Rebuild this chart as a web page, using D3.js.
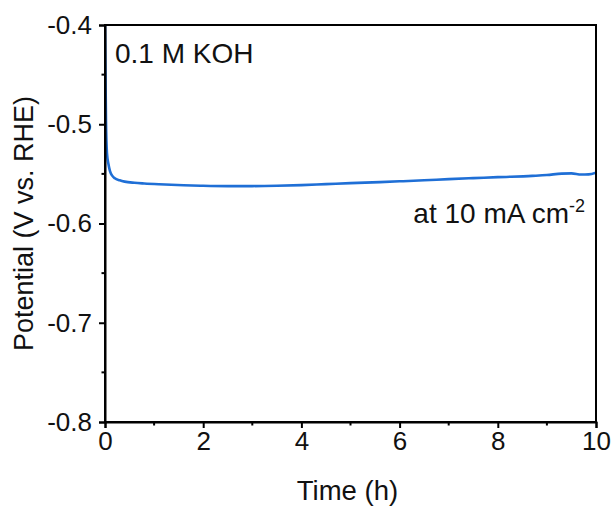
<!DOCTYPE html>
<html lang="en">
<head>
<meta charset="utf-8">
<title>Chronopotentiometry in 0.1 M KOH</title>
<script src="https://cdn.jsdelivr.net/npm/d3@7"></script>
<style>
  body { margin: 0; background: #fff; }
  svg text { font-family: Arial, "Liberation Sans", sans-serif; fill: #111; }
</style>
</head>
<body>
<script>
// time (h) and potential (V vs. RHE)
var times = [0, 0.01, 0.02, 0.04, 0.07, 0.1, 0.15, 0.2, 0.3, 0.4, 0.6, 0.8, 1.1, 1.6, 2.0, 2.5, 3.0, 3.5, 4.0, 4.5, 5.0, 5.6, 6.0, 6.5, 7.0, 7.5, 8.0, 8.7, 9.0, 9.3, 9.5, 9.7, 9.85, 10];
var potentials = [-0.4, -0.45, -0.496, -0.529, -0.540, -0.547, -0.552, -0.5545, -0.5565, -0.5578, -0.559, -0.5597, -0.5605, -0.5615, -0.562, -0.5623, -0.5623, -0.562, -0.5613, -0.5603, -0.5593, -0.5583, -0.5575, -0.5565, -0.5553, -0.5543, -0.5533, -0.552, -0.5512, -0.5497, -0.5495, -0.5507, -0.5505, -0.5488];

var xTicks = [0, 2, 4, 6, 8, 10];
var yTicks = [-0.4, -0.5, -0.6, -0.7, -0.8];
var xMinor = [1, 3, 5, 7, 9];
var yMinor = [-0.45, -0.55, -0.65, -0.75];

var w = 615, h = 509;
var margin = {top: 25, right: 19, bottom: 87, left: 105};

var svg = d3.select("body").append("svg")
  .attr("width", w)
  .attr("height", h);

var x = d3.scaleLinear().domain([0, 10]).range([margin.left, w - margin.right]);
var y = d3.scaleLinear().domain([-0.8, -0.4]).range([h - margin.bottom, margin.top]);

var data = times.map(function(t, i) { return {t: t, v: potentials[i]}; });

// clip so the curve stays inside the frame
svg.append("clipPath").attr("id", "clip")
  .append("rect")
  .attr("x", x(0)).attr("y", y(-0.4))
  .attr("width", x(10) - x(0)).attr("height", y(-0.8) - y(-0.4));

var line = d3.line()
  .x(function(d) { return x(d.t); })
  .y(function(d) { return y(d.v); })
  .curve(d3.curveMonotoneX);

svg.append("path")
  .datum(data)
  .attr("clip-path", "url(#clip)")
  .attr("d", line)
  .attr("fill", "none")
  .attr("stroke", "#1f6fd6")
  .attr("stroke-width", 2.6);

// frame (top and right, no ticks)
svg.append("rect")
  .attr("x", x(0)).attr("y", y(-0.4))
  .attr("width", x(10) - x(0)).attr("height", y(-0.8) - y(-0.4))
  .attr("fill", "none")
  .attr("stroke", "#000")
  .attr("stroke-width", 2);

// axes
var xAxis = svg.append("g")
  .attr("transform", "translate(0," + y(-0.8) + ")")
  .call(d3.axisBottom(x).tickValues(xTicks).tickSize(6).tickPadding(4).tickFormat(d3.format("d")));

var yAxis = svg.append("g")
  .attr("transform", "translate(" + x(0) + ",0)")
  .call(d3.axisLeft(y).tickValues(yTicks).tickSize(6).tickPadding(7).tickFormat(d3.format(".1f")));

[xAxis, yAxis].forEach(function(g) {
  g.select(".domain").attr("stroke-width", 2);
  g.selectAll(".tick line").attr("stroke-width", 2);
  g.selectAll(".tick text").attr("font-size", 26).attr("font-family", "Arial, 'Liberation Sans', sans-serif").attr("fill", "#111");
});
yAxis.selectAll(".tick text").text(function(d) { return d3.format(".1f")(d).replace("−", "-"); });

// minor ticks
svg.append("g").selectAll("line").data(xMinor).enter().append("line")
  .attr("x1", function(d) { return x(d); }).attr("x2", function(d) { return x(d); })
  .attr("y1", y(-0.8)).attr("y2", y(-0.8) + 3.5)
  .attr("stroke", "#000").attr("stroke-width", 2);

svg.append("g").selectAll("line").data(yMinor).enter().append("line")
  .attr("y1", function(d) { return y(d); }).attr("y2", function(d) { return y(d); })
  .attr("x1", x(0)).attr("x2", x(0) - 3.5)
  .attr("stroke", "#000").attr("stroke-width", 2);

// axis titles
svg.append("text")
  .attr("x", (x(0) + x(10)) / 2 - 3)
  .attr("y", 500)
  .attr("text-anchor", "middle")
  .attr("font-size", 27.5)
  .text("Time (h)");

svg.append("text")
  .attr("transform", "translate(33," + (y(-0.6)) + ") rotate(-90)")
  .attr("text-anchor", "middle")
  .attr("font-size", 27)
  .text("Potential (V vs. RHE)");

// annotations
svg.append("text")
  .attr("x", 115)
  .attr("y", 63)
  .attr("font-size", 28)
  .text("0.1 M KOH");

var note = svg.append("text")
  .attr("x", 585)
  .attr("y", 223)
  .attr("text-anchor", "end")
  .attr("font-size", 28);
note.append("tspan").text("at 10 mA cm");
note.append("tspan").attr("font-size", 18).attr("dy", -11).text("-2");
</script>
</body>
</html>
